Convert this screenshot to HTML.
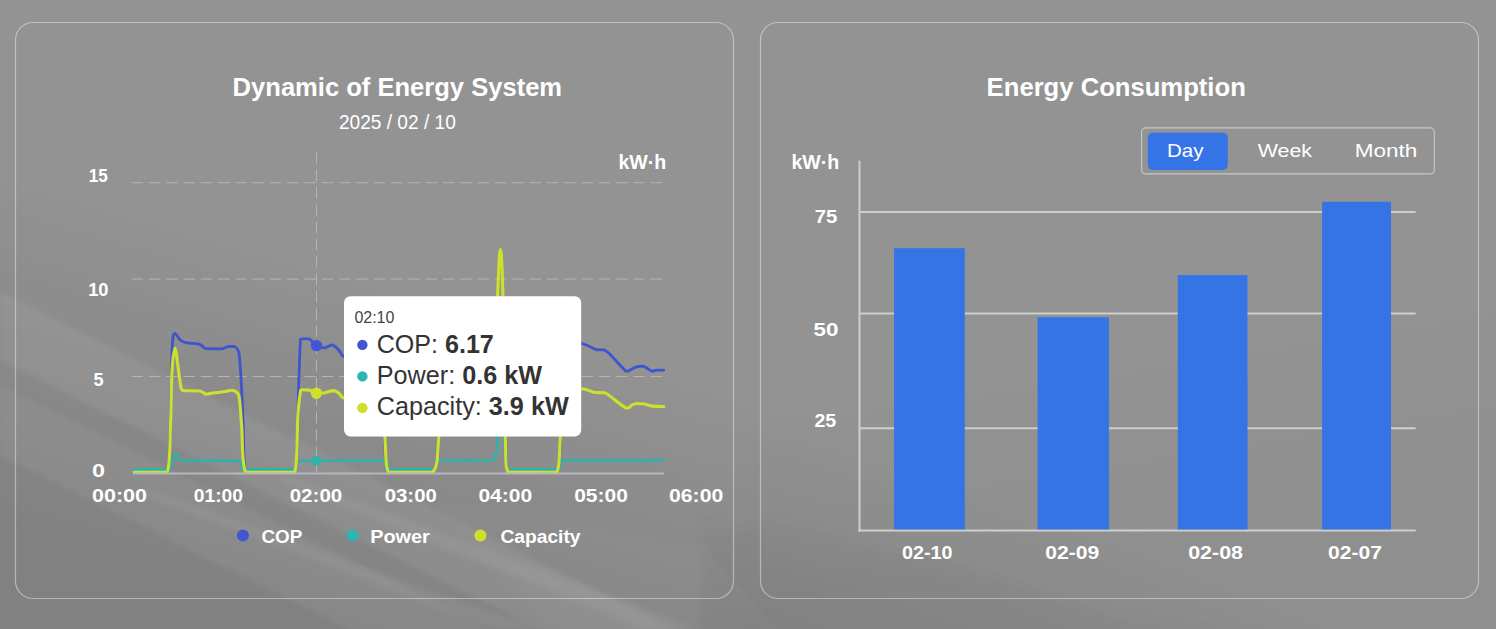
<!DOCTYPE html>
<html><head><meta charset="utf-8">
<style>
html,body{margin:0;padding:0;width:1496px;height:629px;overflow:hidden;background:#939393;}
svg{display:block;}
text{font-family:"Liberation Sans",sans-serif;}
</style></head>
<body>
<svg width="1496" height="629" viewBox="0 0 1496 629">
<defs>
<filter id="bl2" filterUnits="userSpaceOnUse" x="-200" y="-200" width="1900" height="1100"><feGaussianBlur stdDeviation="2"/></filter>
<filter id="bl6" filterUnits="userSpaceOnUse" x="-200" y="-200" width="1900" height="1100"><feGaussianBlur stdDeviation="6"/></filter>
<filter id="bl15" filterUnits="userSpaceOnUse" x="-200" y="-200" width="1900" height="1300"><feGaussianBlur stdDeviation="14"/></filter>
</defs>
<rect x="0" y="0" width="1496" height="629" fill="#939393"/>
<g filter="url(#bl15)">
<polygon points="-100,150 0,200 380,310 760,430 1000,520 1600,760 1600,1000 -100,1000" fill="#000" fill-opacity="0.025"/>
<polygon points="-100,210 0,260 380,370 760,490 1000,580 1600,820 1600,1000 -100,1000" fill="#000" fill-opacity="0.025"/>
<polygon points="-100,270 0,320 380,430 760,550 1000,640 1600,880 1600,1000 -100,1000" fill="#000" fill-opacity="0.025"/>
<polygon points="-100,330 0,380 380,490 760,610 1000,700 1600,940 1600,1000 -100,1000" fill="#000" fill-opacity="0.025"/>
<polygon points="-100,390 0,440 380,550 760,670 1000,760 1600,1000 1600,1000 -100,1000" fill="#000" fill-opacity="0.025"/>
<polygon points="-100,450 0,500 380,610 760,730 1000,820 1600,1060 1600,1000 -100,1000" fill="#000" fill-opacity="0.025"/>
<polygon points="600,800 760,440 1100,390 1600,310 1600,800" fill="#000" fill-opacity="0.012"/>
<polygon points="600,800 760,510 1100,460 1600,380 1600,800" fill="#000" fill-opacity="0.012"/>
<polygon points="600,800 760,580 1100,530 1600,450 1600,800" fill="#000" fill-opacity="0.012"/>
</g>
<g filter="url(#bl2)">
<polygon points="0,292 760,672 760,740 0,360" fill="#fff" fill-opacity="0.06"/>
<polygon points="0,385 520,645 520,715 0,455" fill="#fff" fill-opacity="0.05"/>
<polygon points="139,494 495,629 540,629 150,490" fill="#fff" fill-opacity="0.05"/>
<polygon points="277,480 644,629 700,629 290,476" fill="#fff" fill-opacity="0.05"/>
</g>
<g filter="url(#bl6)">
<polygon points="430,500 700,545 790,640 560,640" fill="#fff" fill-opacity="0.02"/>
<polygon points="700,515 850,545 994,579 1120,612 1300,650 700,650" fill="#000" fill-opacity="0.02"/>
</g>
<rect x="15.5" y="22.5" width="718" height="576" rx="17.5" ry="17.5" fill="none" stroke="#fff" stroke-opacity="0.42" stroke-width="1.2"/>
<rect x="760.5" y="22.5" width="718" height="576" rx="17.5" ry="17.5" fill="none" stroke="#fff" stroke-opacity="0.42" stroke-width="1.2"/>
<g stroke="#b4b4b4" stroke-width="1" stroke-dasharray="11.5 5.8" fill="none">
<line x1="131.6" y1="182.7" x2="664" y2="182.7"/>
<line x1="131.6" y1="279.1" x2="664" y2="279.1"/>
<line x1="131.6" y1="376.5" x2="664" y2="376.5"/>
<line x1="316.5" y1="152.4" x2="316.5" y2="472"/>
</g>
<g fill="none" stroke-linejoin="round" stroke-linecap="round">
<path stroke="#3d55cf" stroke-width="2.8" d="M134.00,472.50 C139.86,472.50 161.15,472.50 167.50,472.50 C170.30,464.19 169.48,447.05 170.30,425.00 C171.12,402.95 171.39,362.55 172.20,346.50 C173.00,333.30 173.47,334.42 174.90,333.30 C176.34,333.30 178.32,338.44 180.40,340.10 C182.48,341.76 183.74,342.15 186.80,342.80 C189.86,343.45 195.26,343.29 197.90,343.80 C200.54,344.31 200.50,344.88 201.90,345.70 C203.30,346.52 202.42,347.96 205.90,348.50 C209.38,348.80 217.92,348.80 221.80,348.80 C225.69,348.45 225.88,346.90 228.10,346.50 C230.32,346.50 232.68,346.50 234.50,346.50 C236.32,347.32 237.52,348.01 238.50,351.20 C239.48,354.38 239.56,358.15 240.10,364.70 C240.64,371.25 241.06,378.05 241.60,388.60 C242.14,399.15 242.52,410.32 243.20,425.00 C243.88,439.68 243.20,464.19 245.50,472.50 C254.51,472.50 285.53,472.50 294.70,472.50 C297.90,462.44 297.22,429.79 297.90,415.00 C298.58,400.21 298.15,401.25 298.60,388.00 C299.06,374.75 299.82,347.89 300.50,339.30 C301.18,338.90 300.96,338.97 302.50,338.90 C304.04,338.90 306.85,338.90 309.30,338.90 C311.75,340.11 313.98,344.23 316.50,345.80 C319.02,347.38 320.95,347.90 323.70,347.90 C326.45,347.76 329.45,345.00 332.20,345.00 C334.95,345.51 337.39,348.79 339.40,350.80 C341.41,352.81 340.09,354.54 343.70,356.50 C347.31,358.46 353.47,360.34 360.00,362.00 C366.53,363.66 376.71,362.00 381.00,366.00 C384.50,378.95 383.24,417.36 384.50,436.00 C385.76,454.64 384.50,466.11 388.20,472.50 C396.60,472.50 423.59,472.50 432.50,472.50 C439.10,466.11 437.44,457.44 439.10,436.00 C440.76,414.56 439.10,365.05 442.00,350.00 C451.61,350.00 483.85,350.00 494.00,350.00 C500.00,350.35 498.02,350.00 500.00,352.00 C501.98,367.05 503.87,414.91 505.30,436.00 C506.74,457.09 505.30,466.11 508.20,472.50 C517.21,472.50 547.66,472.50 556.80,472.50 C560.40,466.11 559.31,457.44 560.40,436.00 C561.49,414.56 560.45,366.27 563.00,350.00 C565.55,343.00 571.69,344.14 575.00,343.00 C578.31,343.00 579.45,343.00 581.90,343.50 C584.35,344.06 586.36,345.08 589.00,346.20 C591.64,347.32 594.48,349.29 597.00,349.90 C599.52,349.90 601.44,349.70 603.40,349.70 C605.36,350.17 604.32,349.70 608.20,352.60 C612.09,356.31 622.13,367.64 625.60,370.90 C628.00,371.20 626.32,371.20 628.00,371.20 C629.68,370.59 632.56,368.29 635.20,367.40 C637.84,366.51 640.18,366.10 643.10,366.10 C646.02,366.77 649.54,370.50 651.90,371.20 C654.26,371.20 654.52,370.29 656.60,370.10 C658.68,370.10 662.54,370.10 663.80,370.10"/>
<path stroke="#2cb3ad" stroke-width="2.6" d="M134.00,469.40 C139.86,469.40 161.23,469.40 167.50,469.40 C169.80,469.33 168.40,469.40 169.80,469.00 C171.20,466.27 173.16,455.29 175.50,453.80 C177.84,453.80 175.50,459.24 183.20,460.50 C194.38,461.00 228.76,460.50 239.40,461.00 C244.00,462.56 239.40,467.93 244.00,469.40 C253.64,469.40 285.08,469.40 294.50,469.40 C297.80,467.93 296.10,462.50 297.80,461.00 C299.50,460.80 300.93,460.85 304.20,460.80 C307.47,460.75 304.20,460.75 316.50,460.70 C330.29,460.65 370.57,460.50 383.00,460.50 C387.50,462.02 383.00,467.84 387.50,469.40 C396.43,469.40 424.99,469.40 434.00,469.40 C439.00,467.84 434.00,462.06 439.00,460.50 C449.15,460.50 481.68,460.50 492.00,460.50 C498.00,456.21 496.43,446.59 498.00,436.00 C499.57,425.41 499.95,400.00 501.00,400.00 C502.05,400.00 502.95,423.86 504.00,436.00 C505.05,448.14 504.00,463.56 507.00,469.40 C516.45,469.40 548.27,469.40 558.00,469.40 C562.60,467.84 558.00,462.06 562.60,460.50 C581.12,460.50 646.09,460.50 663.80,460.50"/>
<path stroke="#cde02c" stroke-width="3.1" d="M134.00,472.40 C139.81,472.40 160.79,472.40 167.20,472.40 C170.60,463.58 169.78,439.45 170.60,422.00 C171.42,404.55 171.15,385.65 171.90,372.70 C172.65,359.75 173.69,348.00 174.90,348.00 C176.11,348.00 177.70,365.59 178.80,372.70 C179.90,379.81 180.36,385.49 181.20,388.60 C182.04,390.50 181.20,390.08 183.60,390.50 C186.80,390.92 195.60,390.50 199.50,391.00 C203.40,391.65 203.96,393.78 205.90,394.20 C207.84,394.20 207.54,393.82 210.60,393.40 C213.66,392.98 219.78,392.36 223.40,391.80 C227.02,391.24 229.08,390.20 231.30,390.20 C233.52,390.20 234.70,390.42 236.10,391.80 C237.50,393.18 238.34,392.29 239.30,398.10 C240.26,403.91 240.50,412.00 241.60,425.00 C242.70,438.00 241.60,464.10 245.60,472.40 C254.89,472.40 285.55,472.40 294.70,472.40 C297.90,462.35 296.85,429.40 297.90,415.00 C298.95,400.60 299.95,394.53 300.70,390.10 C301.45,389.70 300.70,389.70 302.20,389.70 C303.70,389.70 306.80,389.70 309.30,390.10 C311.80,390.68 313.98,392.49 316.50,393.00 C319.02,393.00 320.69,393.00 323.70,393.00 C326.71,392.58 330.95,390.60 333.70,390.60 C336.45,390.72 337.65,392.40 339.40,393.70 C341.15,395.00 340.09,396.55 343.70,398.00 C347.31,399.45 353.65,400.77 360.00,402.00 C366.35,403.23 375.68,402.00 380.00,405.00 C384.32,410.95 383.23,424.20 384.70,436.00 C386.17,447.80 384.70,466.03 388.40,472.40 C396.76,472.40 423.63,472.40 432.50,472.40 C439.10,466.03 437.09,450.07 439.10,436.00 C441.11,421.93 439.10,399.70 444.00,392.00 C453.61,392.00 484.62,392.00 494.00,392.00 C497.60,375.02 496.50,319.94 497.60,295.00 C498.70,270.06 499.37,249.50 500.30,249.50 C501.23,249.50 502.02,262.36 502.90,295.00 C503.77,327.64 504.37,404.95 505.30,436.00 C506.23,467.05 505.30,466.03 508.20,472.40 C517.21,472.40 547.66,472.40 556.80,472.40 C560.40,466.03 558.96,450.07 560.40,436.00 C561.84,421.93 561.24,400.28 565.00,392.00 C568.76,388.70 576.86,388.70 581.90,388.70 C586.94,388.75 589.90,391.58 593.80,392.30 C597.70,392.80 601.68,392.38 604.20,392.80 C606.72,393.22 604.32,392.80 608.20,394.70 C612.09,397.39 622.24,406.40 626.40,408.20 C630.56,408.20 630.18,405.82 632.00,405.00 C633.82,404.18 634.58,403.68 636.80,403.50 C639.02,403.50 642.22,403.58 644.70,404.00 C647.19,404.42 647.66,405.44 651.00,405.90 C654.34,406.35 661.56,406.48 663.80,406.60"/>
</g>
<line x1="133" y1="473.4" x2="664" y2="473.4" stroke="#b6b6c0" stroke-width="2"/>
<circle cx="316.5" cy="345.6" r="5.7" fill="#3f57d2"/>
<circle cx="316.5" cy="393.2" r="5.7" fill="#cde02c"/>
<circle cx="316.5" cy="460.7" r="5" fill="#2cb3ad"/>
<circle cx="242.9" cy="535.4" r="6" fill="#4356d0"/>
<circle cx="352.6" cy="535.4" r="6" fill="#2cb5b3"/>
<circle cx="480.4" cy="535.4" r="6" fill="#cfe02a"/>
<rect x="344" y="296.2" width="237.2" height="140.3" rx="6.5" ry="6.5" fill="#ffffff"/>
<circle cx="362.4" cy="344.9" r="5.2" fill="#4356d0"/>
<circle cx="362.4" cy="376.4" r="5.2" fill="#2cb5b3"/>
<circle cx="362.4" cy="407.9" r="5.2" fill="#cfe02a"/>
<rect x="1141.6" y="127.9" width="292.7" height="46" rx="4" ry="4" fill="none" stroke="#c8c8c8" stroke-width="1.2"/>
<rect x="1147.8" y="132.8" width="80" height="37.2" rx="5" ry="5" fill="#3574e6"/>
<g stroke="#cecece" stroke-width="2">
<line x1="859.5" y1="160.8" x2="859.5" y2="531.4"/>
<line x1="859.5" y1="212" x2="1415.7" y2="212"/>
<line x1="859.5" y1="313.6" x2="1415.7" y2="313.6"/>
<line x1="859.5" y1="428.3" x2="1415.7" y2="428.3"/>
<line x1="858.5" y1="530.4" x2="1415.7" y2="530.4"/>
</g>
<g fill="#3574e5">
<rect x="894.1" y="248.2" width="70.7" height="281.2"/>
<rect x="1037.6" y="317.3" width="71.3" height="212.1"/>
<rect x="1177.8" y="275.1" width="69.7" height="254.3"/>
<rect x="1322.1" y="201.8" width="68.9" height="327.6"/>
</g>

<text id="t1" x="232.64" y="95.60" font-size="25" font-weight="bold" fill="#fff" textLength="329.46" lengthAdjust="spacingAndGlyphs">Dynamic of Energy System</text>
<text id="t2" x="338.96" y="129.30" font-size="20" font-weight="normal" fill="#fff" textLength="116.82" lengthAdjust="spacingAndGlyphs">2025 / 02 / 10</text>
<text id="kwl" x="618.42" y="168.60" font-size="19.8" font-weight="bold" fill="#fff" textLength="47.90" lengthAdjust="spacingAndGlyphs">kW·h</text>
<text id="y15" x="88.68" y="182.40" font-size="18.5" font-weight="bold" fill="#fff" textLength="19.08" lengthAdjust="spacingAndGlyphs">15</text>
<text id="y10" x="88.20" y="295.70" font-size="18.5" font-weight="bold" fill="#fff" textLength="20.32" lengthAdjust="spacingAndGlyphs">10</text>
<text id="y5" x="93.62" y="386.00" font-size="18.5" font-weight="bold" fill="#fff" textLength="10.10" lengthAdjust="spacingAndGlyphs">5</text>
<text id="y0" x="91.94" y="477.40" font-size="18.5" font-weight="bold" fill="#fff" textLength="13.04" lengthAdjust="spacingAndGlyphs">0</text>
<text id="x0" x="91.94" y="501.70" font-size="18" font-weight="bold" fill="#fff" textLength="55.08" lengthAdjust="spacingAndGlyphs">00:00</text>
<text id="x1" x="193.70" y="501.70" font-size="18" font-weight="bold" fill="#fff" textLength="49.32" lengthAdjust="spacingAndGlyphs">01:00</text>
<text id="x2" x="289.70" y="501.70" font-size="18" font-weight="bold" fill="#fff" textLength="52.58" lengthAdjust="spacingAndGlyphs">02:00</text>
<text id="x3" x="384.72" y="501.70" font-size="18" font-weight="bold" fill="#fff" textLength="52.08" lengthAdjust="spacingAndGlyphs">03:00</text>
<text id="x4" x="478.42" y="501.70" font-size="18" font-weight="bold" fill="#fff" textLength="53.86" lengthAdjust="spacingAndGlyphs">04:00</text>
<text id="x5" x="574.18" y="501.70" font-size="18" font-weight="bold" fill="#fff" textLength="53.64" lengthAdjust="spacingAndGlyphs">05:00</text>
<text id="x6" x="668.94" y="501.70" font-size="18" font-weight="bold" fill="#fff" textLength="54.38" lengthAdjust="spacingAndGlyphs">06:00</text>
<text id="lg1" x="261.42" y="542.50" font-size="18" font-weight="bold" fill="#fff" textLength="40.86" lengthAdjust="spacingAndGlyphs">COP</text>
<text id="lg2" x="370.16" y="542.50" font-size="18" font-weight="bold" fill="#fff" textLength="59.60" lengthAdjust="spacingAndGlyphs">Power</text>
<text id="lg3" x="500.44" y="542.50" font-size="18" font-weight="bold" fill="#fff" textLength="80.08" lengthAdjust="spacingAndGlyphs">Capacity</text>
<text id="tt0" x="354.40" y="322.70" font-size="16" font-weight="normal" fill="#444" textLength="40.02" lengthAdjust="spacingAndGlyphs">02:10</text>
<text id="tt1" x="376.70" y="352.60" font-size="25.5" font-weight="normal" fill="#333" textLength="117.12" lengthAdjust="spacingAndGlyphs">COP: <tspan font-weight="bold">6.17</tspan></text>
<text id="tt2" x="376.78" y="384.10" font-size="25.5" font-weight="normal" fill="#333" textLength="165.16" lengthAdjust="spacingAndGlyphs">Power: <tspan font-weight="bold">0.6 kW</tspan></text>
<text id="tt3" x="376.74" y="415.10" font-size="25.5" font-weight="normal" fill="#333" textLength="192.00" lengthAdjust="spacingAndGlyphs">Capacity: <tspan font-weight="bold">3.9 kW</tspan></text>
<text id="t3" x="986.64" y="96.10" font-size="25" font-weight="bold" fill="#fff" textLength="259.18" lengthAdjust="spacingAndGlyphs">Energy Consumption</text>
<text id="sd" x="1166.90" y="157.10" font-size="18.5" font-weight="normal" fill="#fff" textLength="36.58" lengthAdjust="spacingAndGlyphs">Day</text>
<text id="sw" x="1257.74" y="157.10" font-size="18.5" font-weight="normal" fill="#fff" textLength="54.30" lengthAdjust="spacingAndGlyphs">Week</text>
<text id="sm" x="1354.66" y="157.10" font-size="18.5" font-weight="normal" fill="#fff" textLength="62.66" lengthAdjust="spacingAndGlyphs">Month</text>
<text id="kwr" x="791.42" y="169.20" font-size="19.8" font-weight="bold" fill="#fff" textLength="47.90" lengthAdjust="spacingAndGlyphs">kW·h</text>
<text id="r75" x="814.70" y="222.70" font-size="18.5" font-weight="bold" fill="#fff" textLength="22.60" lengthAdjust="spacingAndGlyphs">75</text>
<text id="r50" x="813.44" y="336.40" font-size="18.5" font-weight="bold" fill="#fff" textLength="24.88" lengthAdjust="spacingAndGlyphs">50</text>
<text id="r25" x="814.44" y="427.10" font-size="18.5" font-weight="bold" fill="#fff" textLength="21.82" lengthAdjust="spacingAndGlyphs">25</text>
<text id="b1" x="901.94" y="559.00" font-size="18" font-weight="bold" fill="#fff" textLength="50.62" lengthAdjust="spacingAndGlyphs">02-10</text>
<text id="b2" x="1045.20" y="559.00" font-size="18" font-weight="bold" fill="#fff" textLength="54.10" lengthAdjust="spacingAndGlyphs">02-09</text>
<text id="b3" x="1188.20" y="559.00" font-size="18" font-weight="bold" fill="#fff" textLength="54.82" lengthAdjust="spacingAndGlyphs">02-08</text>
<text id="b4" x="1327.96" y="559.00" font-size="18" font-weight="bold" fill="#fff" textLength="54.08" lengthAdjust="spacingAndGlyphs">02-07</text>


</svg>
</body></html>
